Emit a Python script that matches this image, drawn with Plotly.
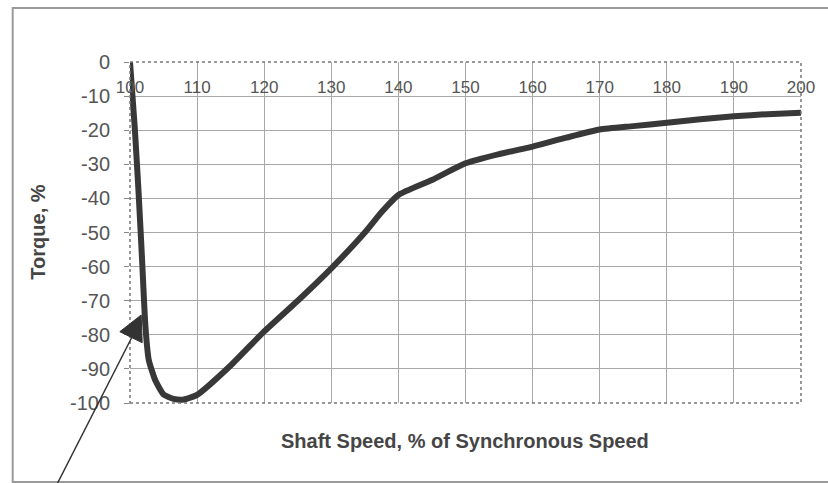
import plotly.graph_objects as go

# Data
speed = [100, 100.7, 101.3, 101.8, 102.3, 102.8, 103.8, 105, 106.5, 108, 110, 115, 120, 125,
         130, 135, 137.5, 140, 145, 150, 155, 160, 165, 170, 175, 180, 185, 190, 195, 200]
torque = [0, -19, -39, -58, -77.6, -87.4, -93.5, -97.5, -98.8, -99, -97.6, -89, -79, -70,
          -60.5, -50, -44, -39, -34.6, -29.7, -27, -24.8, -22.2, -19.8, -18.8, -17.8, -16.8,
          -15.9, -15.3, -14.9]
x_ticks = [100, 110, 120, 130, 140, 150, 160, 170, 180, 190, 200]
y_ticks = [0, -10, -20, -30, -40, -50, -60, -70, -80, -90, -100]

W, H = 828, 483
L, R, T, B = 129.5, 26.5, 62, 80
pw, ph = W - L - R, H - T - B

def px(xp):
    return (xp - L) / pw

def py(yp):
    return (H - B - yp) / ph

fig = go.Figure()
fig.add_trace(go.Scatter(
    x=speed, y=torque, mode="lines",
    line=dict(color="#383838", width=6, shape="spline", smoothing=0.5),
    showlegend=False, hoverinfo="skip",
))

font_family = "Liberation Sans, Arial, sans-serif"

fig.update_layout(
    width=W, height=H,
    margin=dict(l=L, r=R, t=T, b=B),
    paper_bgcolor="white", plot_bgcolor="white",
    font=dict(family=font_family, color="#454545"),
    xaxis=dict(
        range=[100, 200], side="top", tickvals=x_ticks,
        ticktext=[str(v) for v in x_ticks],
        ticklabelposition="inside", ticklabeloverflow="allow",
        ticklabelstandoff=16,
        tickfont=dict(size=17, color="#555555"),
        showgrid=True, gridcolor="#a8a8a8", gridwidth=1,
        zeroline=False, showline=False, ticks="",
    ),
    yaxis=dict(
        range=[-100, 0], tickvals=y_ticks,
        ticktext=[str(v) for v in y_ticks],
        tickfont=dict(size=20, color="#555555"),
        ticks="outside", ticklen=5, tickcolor="#888888",
        ticklabelstandoff=10,
        showgrid=True, gridcolor="#a8a8a8", gridwidth=1,
        zeroline=False, showline=False,
    ),
    shapes=[
        # plot border
        dict(type="rect", xref="paper", yref="paper", x0=0, y0=0, x1=1, y1=1,
             line=dict(color="#777777", width=1.5, dash="dot")),
        # outer frame
        dict(type="rect", xref="paper", yref="paper",
             x0=px(12), y0=py(482), x1=px(832), y1=py(8),
             line=dict(color="#9a9a9a", width=2)),
        # arrow line
        dict(type="line", xref="paper", yref="paper",
             x0=px(57), y0=py(483), x1=px(131), y1=py(338),
             line=dict(color="#333333", width=1.5)),
        # arrow head
        dict(type="path", xref="paper", yref="paper",
             path=f"M {px(119.3)} {py(331.7)} L {px(140.7)} {py(315)} L {px(141.7)} {py(342.7)} Z",
             fillcolor="#333333", line=dict(color="#333333", width=1)),
    ],
    annotations=[
        dict(text="<b>Shaft Speed, % of Synchronous Speed</b>", xref="paper", yref="paper",
             x=px(465), y=py(441), showarrow=False, xanchor="center", yanchor="middle",
             font=dict(size=20, color="#454545")),
        dict(text="<b>Torque, %</b>", xref="paper", yref="paper", textangle=-90,
             x=px(37), y=py(232), showarrow=False, xanchor="center", yanchor="middle",
             font=dict(size=20, color="#454545")),
    ],
)

fig.write_html(
    "out.html",
    config={"displayModeBar": False},
    post_script="document.body.style.margin='0';document.body.style.overflow='hidden';",
)
